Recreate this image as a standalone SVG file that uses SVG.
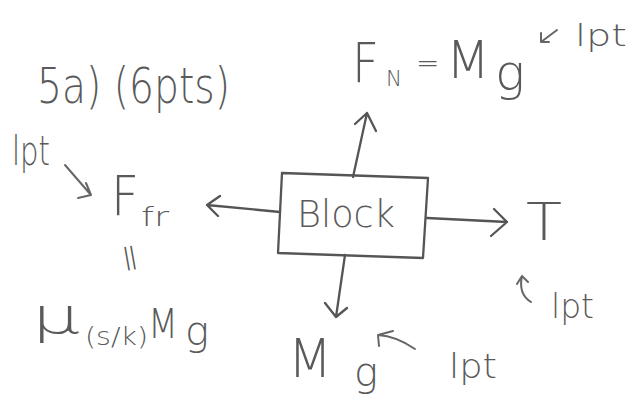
<svg xmlns="http://www.w3.org/2000/svg" width="642" height="405" viewBox="0 0 642 405">
<style>
.ink{fill:none;stroke:#555;stroke-width:2.3;stroke-linecap:round;stroke-linejoin:round}
.thin{fill:none;stroke:#666;stroke-width:2;stroke-linecap:round;stroke-linejoin:round}
text{font-family:"DejaVu Sans","Liberation Sans",sans-serif;font-weight:200;fill:#5a5a5a}
</style>
<rect width="642" height="405" fill="#ffffff"/>
<g id="title">
<text x="37" y="103" font-size="50" textLength="193" lengthAdjust="spacingAndGlyphs">5a) (6pts)</text>
</g>
<g id="block">
<polygon class="ink" points="282,173 428,178 423,258 278,253"/>
<text x="297" y="227" font-size="37" textLength="98" lengthAdjust="spacingAndGlyphs">Block</text>
</g>
<g id="normal-force">
<text x="352" y="82" font-size="56" textLength="27" lengthAdjust="spacingAndGlyphs">F</text>
<text x="386" y="86" font-size="22" textLength="16" lengthAdjust="spacingAndGlyphs">N</text>
<text x="416" y="72" font-size="28">=</text>
<text x="446" y="78" font-size="52" textLength="44" lengthAdjust="spacingAndGlyphs">M</text>
<text x="495" y="90" font-size="50">g</text>
</g>
<g id="friction-force">
<text x="111" y="215" font-size="55" textLength="28" lengthAdjust="spacingAndGlyphs">F</text>
<text x="141" y="226" font-size="26" textLength="28" lengthAdjust="spacingAndGlyphs">fr</text>
<text x="130" y="270" font-size="38" text-anchor="middle" transform="rotate(80,130,258)">=</text>
<text x="32" y="333" font-size="50" textLength="48" lengthAdjust="spacingAndGlyphs">μ</text>
<text x="85" y="345" font-size="25" textLength="63" lengthAdjust="spacingAndGlyphs">(s/k)</text>
<text x="148" y="338" font-size="40" textLength="30" lengthAdjust="spacingAndGlyphs">M</text>
<text x="185" y="345" font-size="40">g</text>
</g>
<g id="tension">
<text x="526" y="240" font-size="51" textLength="36" lengthAdjust="spacingAndGlyphs">T</text>
</g>
<g id="weight">
<text x="288" y="377" font-size="54" textLength="44" lengthAdjust="spacingAndGlyphs">M</text>
<text x="354" y="386" font-size="40">g</text>
</g>
<g id="point-top">
<text x="575" y="46" font-size="30" textLength="52" lengthAdjust="spacingAndGlyphs">lpt</text>
<path class="thin" d="M557,30 L541,42 M541,42 L541,33 M541,42 L549,42"/>
</g>
<g id="point-left">
<text x="12" y="165" font-size="40" textLength="38" lengthAdjust="spacingAndGlyphs">lpt</text>
<path class="thin" d="M65,165 L91,195 M91,195 L78,198 M91,195 L86,183"/>
</g>
<g id="point-right">
<text x="551" y="318" font-size="34" textLength="43" lengthAdjust="spacingAndGlyphs">lpt</text>
<path class="thin" d="M531,302 Q518,294 522,276 M522,276 L517,284 M522,276 L528,282"/>
</g>
<g id="point-bottom">
<text x="449" y="378" font-size="34" textLength="48" lengthAdjust="spacingAndGlyphs">lpt</text>
<path class="thin" d="M415,349 Q396,336 378,335 M378,335 L393,331 M378,335 L379,346"/>
</g>
<g id="connectors">
<path class="ink" d="M353,177 L367,113 M355,124 L367,113 L376,131"/>
<path class="ink" d="M280,212 L207,205 M220,196 L207,205 L218,216"/>
<path class="ink" d="M427,218 L507,222 M494,209 L507,222 L491,236"/>
<path class="ink" d="M345,255 L336,317 M325,303 L336,317 L347,308"/>
</g>
</svg>
